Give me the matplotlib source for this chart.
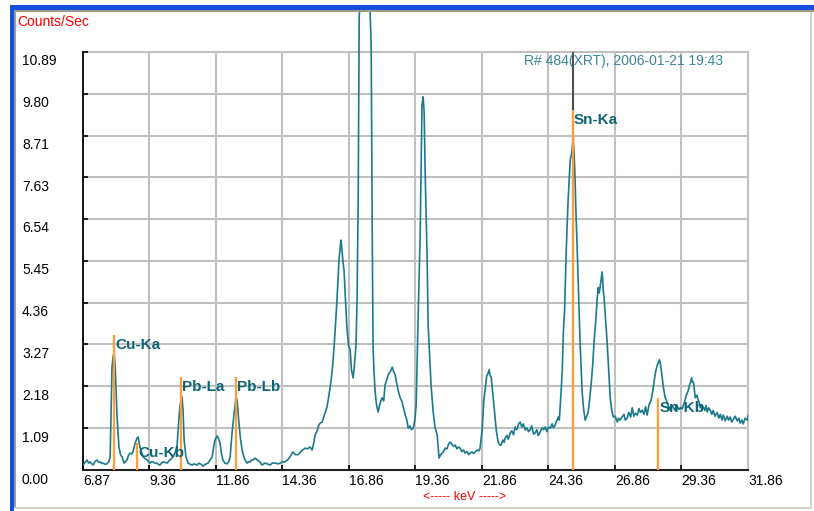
import matplotlib
matplotlib.use("Agg")
import matplotlib.pyplot as plt
from matplotlib.patches import Rectangle
from matplotlib.transforms import offset_copy

plt.rcParams['font.family'] = ['Liberation Sans', 'DejaVu Sans']

# spectrum (keV, counts/sec)
kev = [6.87, 6.95, 7.02, 7.08, 7.13, 7.20, 7.25, 7.32, 7.40, 7.46,
       7.51, 7.57, 7.62, 7.70, 7.77, 7.84, 7.89, 7.92, 7.96, 8.00,
       8.04, 8.08, 8.11, 8.15, 8.22, 8.28, 8.34, 8.41, 8.47, 8.52,
       8.58, 8.64, 8.70, 8.75, 8.83, 8.90, 8.94, 9.01, 9.07, 9.13,
       9.20, 9.28, 9.35, 9.39, 9.45, 9.50, 9.57, 9.65, 9.72, 9.76,
       9.82, 9.88, 9.95, 10.03, 10.10, 10.14, 10.20, 10.25, 10.33, 10.40,
       10.48, 10.52, 10.59, 10.63, 10.67, 10.74, 10.82, 10.90, 10.97, 11.05,
       11.16, 11.22, 11.27, 11.33, 11.38, 11.45, 11.57, 11.65, 11.72, 11.78,
       11.83, 11.91, 11.97, 12.02, 12.08, 12.13, 12.20, 12.28, 12.35, 12.40,
       12.47, 12.55, 12.62, 12.66, 12.73, 12.79, 12.85, 12.90, 12.96, 13.04,
       13.10, 13.15, 13.20, 13.26, 13.34, 13.42, 13.52, 13.60, 13.71, 13.80,
       13.90, 13.98, 14.09, 14.20, 14.28, 14.35, 14.46, 14.55, 14.65, 14.73,
       14.76, 14.85, 14.95, 15.05, 15.12, 15.22, 15.30, 15.40, 15.48, 15.54,
       15.59, 15.66, 15.72, 15.78, 15.86, 15.95, 16.04, 16.10, 16.16, 16.22,
       16.27, 16.34, 16.42, 16.49, 16.55, 16.57, 16.60, 16.64, 16.68, 16.72,
       16.79, 16.85, 16.91, 16.96, 17.02, 17.06, 17.10, 17.13, 17.17, 17.21,
       17.25, 17.43, 17.66, 17.70, 17.74, 17.77, 17.81, 17.85, 17.90, 17.96,
       18.02, 18.05, 18.11, 18.17, 18.22, 18.28, 18.34, 18.42, 18.49, 18.55,
       18.60, 18.66, 18.71, 18.78, 18.86, 18.92, 18.98, 19.04, 19.09, 19.15,
       19.22, 19.28, 19.34, 19.39, 19.46, 19.54, 19.58, 19.61, 19.65, 19.69,
       19.73, 19.80, 19.84, 19.90, 19.95, 20.03, 20.10, 20.18, 20.25, 20.31,
       20.37, 20.42, 20.48, 20.55, 20.61, 20.67, 20.75, 20.80, 20.86, 20.92,
       20.98, 21.04, 21.10, 21.17, 21.23, 21.30, 21.36, 21.42, 21.50, 21.55,
       21.61, 21.68, 21.75, 21.79, 21.87, 21.93, 21.98, 22.04, 22.10, 22.13,
       22.17, 22.21, 22.28, 22.35, 22.40, 22.47, 22.53, 22.58, 22.65, 22.70,
       22.73, 22.80, 22.85, 22.92, 22.98, 23.05, 23.11, 23.17, 23.24, 23.30,
       23.36, 23.42, 23.49, 23.55, 23.61, 23.67, 23.73, 23.80, 23.86, 23.92,
       23.98, 24.05, 24.12, 24.18, 24.24, 24.30, 24.36, 24.43, 24.50, 24.55,
       24.61, 24.67, 24.73, 24.77, 24.84, 24.88, 24.92, 24.97, 25.03, 25.10,
       25.18, 25.22, 25.25, 25.29, 25.33, 25.36, 25.40, 25.44, 25.48, 25.55,
       25.63, 25.68, 25.74, 25.80, 25.85, 25.91, 25.97, 26.03, 26.08, 26.14,
       26.19, 26.23, 26.27, 26.33, 26.38, 26.42, 26.45, 26.49, 26.55, 26.61,
       26.68, 26.74, 26.80, 26.87, 26.95, 27.00, 27.05, 27.13, 27.20, 27.25,
       27.32, 27.38, 27.45, 27.51, 27.57, 27.63, 27.70, 27.76, 27.82, 27.89,
       27.95, 28.01, 28.07, 28.14, 28.22, 28.28, 28.34, 28.40, 28.45, 28.53,
       28.56, 28.60, 28.68, 28.74, 28.79, 28.85, 28.90, 28.94, 29.00, 29.05,
       29.12, 29.18, 29.25, 29.32, 29.40, 29.48, 29.54, 29.58, 29.62, 29.66,
       29.70, 29.74, 29.77, 29.81, 29.85, 29.88, 29.94, 29.99, 30.04, 30.07,
       30.12, 30.18, 30.24, 30.28, 30.33, 30.38, 30.44, 30.50, 30.55, 30.62,
       30.70, 30.76, 30.82, 30.88, 30.93, 31.00, 31.08, 31.13, 31.19, 31.25,
       31.31, 31.38, 31.45, 31.52, 31.57, 31.63, 31.68, 31.75, 31.83, 31.87]

cps = [0.13, 0.20, 0.26, 0.18, 0.21, 0.16, 0.13, 0.22, 0.26, 0.20,
       0.21, 0.17, 0.18, 0.15, 0.16, 0.22, 0.34, 1.38, 2.68, 2.95,
       3.05, 2.70, 2.16, 1.38, 0.60, 0.40, 0.34, 0.18, 0.22, 0.26,
       0.38, 0.44, 0.42, 0.47, 0.70, 0.83, 0.86, 0.60, 0.45, 0.34,
       0.30, 0.26, 0.20, 0.18, 0.22, 0.21, 0.18, 0.18, 0.14, 0.13,
       0.18, 0.21, 0.20, 0.18, 0.24, 0.26, 0.30, 0.34, 0.45, 0.60,
       1.38, 1.69, 1.90, 1.56, 0.78, 0.34, 0.18, 0.15, 0.13, 0.16,
       0.13, 0.18, 0.16, 0.14, 0.10, 0.14, 0.18, 0.26, 0.34, 0.60,
       0.78, 0.89, 0.80, 0.70, 0.40, 0.26, 0.18, 0.16, 0.22, 0.34,
       0.96, 1.49, 1.90, 1.82, 1.22, 0.80, 0.52, 0.38, 0.26, 0.18,
       0.22, 0.21, 0.26, 0.26, 0.31, 0.26, 0.21, 0.13, 0.18, 0.16,
       0.13, 0.18, 0.18, 0.16, 0.18, 0.21, 0.21, 0.26, 0.34, 0.44,
       0.47, 0.40, 0.40, 0.48, 0.52, 0.57, 0.55, 0.60, 0.52, 0.70,
       0.91, 1.00, 1.15, 1.22, 1.25, 1.45, 1.64, 1.90, 2.16, 2.50,
       2.87, 3.57, 4.51, 5.47, 5.90, 5.99, 5.75, 5.42, 5.20, 4.61,
       3.70, 3.25, 3.13, 2.60, 2.40, 2.65, 3.00, 3.26, 4.48, 6.90,
       11.85, 13.00, 11.93, 11.02, 6.10, 3.20, 2.50, 2.03, 1.70, 1.51,
       1.70, 1.77, 1.88, 1.80, 2.21, 2.35, 2.48, 2.56, 2.68, 2.55,
       2.48, 2.25, 2.08, 1.90, 1.77, 1.60, 1.43, 1.30, 1.09, 1.15,
       1.05, 1.09, 1.30, 1.69, 3.86, 6.12, 8.00, 9.51, 9.72, 9.33,
       7.69, 5.60, 3.78, 2.90, 2.21, 1.51, 1.10, 0.91, 0.31, 0.40,
       0.44, 0.48, 0.57, 0.55, 0.68, 0.73, 0.65, 0.62, 0.65, 0.55,
       0.60, 0.57, 0.48, 0.52, 0.44, 0.48, 0.40, 0.44, 0.47, 0.43,
       0.47, 0.52, 0.50, 0.57, 1.04, 1.80, 2.08, 2.45, 2.53, 2.61,
       2.45, 2.42, 1.90, 1.40, 1.04, 0.73, 0.65, 0.65, 0.78, 0.72,
       0.83, 0.90, 0.80, 0.96, 1.02, 0.92, 1.12, 1.05, 1.20, 1.25,
       1.12, 1.20, 1.04, 1.10, 1.00, 1.04, 1.15, 0.94, 0.96, 1.05,
       0.90, 0.99, 1.10, 1.05, 1.12, 1.00, 1.12, 1.09, 1.20, 1.10,
       1.17, 1.28, 1.38, 1.30, 2.08, 2.60, 3.57, 4.20, 5.73, 7.03,
       8.08, 8.20, 8.34, 8.68, 8.16, 7.60, 6.59, 5.80, 4.87, 3.31,
       2.01, 1.60, 1.30, 1.40, 1.49, 1.85, 2.27, 2.80, 3.39, 3.90,
       4.43, 4.75, 4.61, 4.90, 5.16, 4.69, 4.50, 4.09, 3.50, 2.79,
       1.90, 1.55, 1.38, 1.40, 1.25, 1.35, 1.30, 1.38, 1.45, 1.30,
       1.35, 1.50, 1.38, 1.62, 1.40, 1.48, 1.43, 1.60, 1.50, 1.56,
       1.45, 1.65, 1.43, 1.70, 1.82, 2.05, 2.35, 2.60, 2.72, 2.87,
       2.80, 2.61, 2.16, 1.90, 1.82, 1.70, 1.62, 1.56, 1.68, 1.64,
       1.55, 1.70, 1.58, 1.62, 1.62, 1.78, 1.95, 2.01, 2.08, 2.20,
       2.29, 2.40, 2.29, 2.29, 2.05, 1.88, 1.95, 1.82, 1.72, 1.62,
       1.70, 1.64, 1.55, 1.68, 1.51, 1.62, 1.56, 1.45, 1.55, 1.40,
       1.50, 1.35, 1.45, 1.30, 1.43, 1.28, 1.40, 1.30, 1.38, 1.25,
       1.32, 1.40, 1.28, 1.35, 1.22, 1.30, 1.20, 1.35, 1.30, 1.43]

# element markers
elements = ['Cu-Ka', 'Cu-Kb', 'Pb-La', 'Pb-Lb', 'Sn-Ka', 'Sn-Kb']
element_kev = [8.04, 8.90, 10.55, 12.61, 25.27, 28.49]
element_height = [3.52, 0.70, 2.42, 2.42, 9.38, 1.88]

xticks = [6.87, 9.36, 11.86, 14.36, 16.86, 19.36, 21.86, 24.36, 26.86, 29.36, 31.86]
yticks = [0.00, 1.09, 2.18, 3.27, 4.36, 5.45, 6.54, 7.63, 8.71, 9.80, 10.89]

W, H = 814, 511
fig = plt.figure(figsize=(W / 100, H / 100), dpi=100)
fig.patch.set_facecolor('white')


def fx(px):
    return px / W


def fy(py):
    return 1 - py / H


# window frame
blue = '#1450d8'
fig.add_artist(Rectangle((fx(10), fy(10)), fx(814) - fx(10), 5 / H, transform=fig.transFigure,
                         color=blue, lw=0))
fig.add_artist(Rectangle((fx(14), fy(12)), fx(814) - fx(14), 2 / H, transform=fig.transFigure,
                         color='#9a9a9a', lw=0))
fig.add_artist(Rectangle((fx(10), fy(511)), 4 / W, (511 - 10) / H, transform=fig.transFigure,
                         color=blue, lw=0))
fig.add_artist(Rectangle((fx(14), fy(508)), 2 / W, (508 - 12) / H, transform=fig.transFigure,
                         color='#9a9a9a', lw=0))
fig.add_artist(Rectangle((fx(14), fy(509)), fx(812) - fx(14), 2 / H, transform=fig.transFigure,
                         color='#d8d4cc', lw=0))
fig.add_artist(Rectangle((fx(810), fy(509)), 2 / W, (509 - 12) / H, transform=fig.transFigure,
                         color='#d8d4cc', lw=0))

ytop = 10.89
ymax = 11.93
ax = fig.add_axes([fx(83), fy(470), fx(748) - fx(83), (470 - 12) / H])
ax.set_xlim(6.87, 31.86)
ax.set_ylim(0, ymax)
ax.patch.set_alpha(0)

grid_col = '#c0c0c0'
ax.hlines(yticks[1:], 6.87, 31.86, color=grid_col, lw=1.5, zorder=0)
ax.vlines(xticks[1:-1], 0, ytop, color=grid_col, lw=1.5, zorder=0)

ax.spines['top'].set_visible(False)
ax.spines['left'].set_bounds(0, ytop)
ax.spines['right'].set_bounds(0, ytop)
ax.spines['right'].set_color(grid_col)
ax.spines['right'].set_linewidth(1.5)
ax.spines['left'].set_linewidth(1.3)
ax.spines['bottom'].set_linewidth(1.5)
ax.spines['bottom'].set_color('#202020')

ax.set_xticks(xticks)
ax.set_yticks(yticks)
ax.tick_params(direction='in', length=3.5, width=1.2, color='black',
               labelleft=False, labelbottom=False)

# tick labels, left aligned like the original
ytr = offset_copy(ax.get_yaxis_transform(), fig=fig, x=0, y=-13.5, units='dots')
for v in yticks:
    ax.text((22 - 83) / 665, v, f'{v:.2f}', transform=ytr, ha='left', va='baseline',
            fontsize=10, color='black', clip_on=False)
xtr = offset_copy(ax.get_xaxis_transform(), fig=fig, x=0, y=-15, units='dots')
for v in xticks:
    ax.text(v, 0, f'{v:.2f}', transform=xtr, ha='left', va='baseline',
            fontsize=10, color='black', clip_on=False)

# spectrum
ax.plot(kev, cps, color='#1b7a8b', lw=1.2, zorder=3)

# cursor line at Sn-Ka
ax.vlines(element_kev[4], 0, ytop, color='#505050', lw=1.5, zorder=2)

label_col = '#0d6477'
orange = '#ff9d3a'
for name, e, h in zip(elements, element_kev, element_height):
    ax.vlines(e, 0, h, color=orange, lw=1.6, zorder=4)
    ax.annotate(name, (e, h), xytext=(1, -3), textcoords='offset pixels',
                ha='left', va='top', fontsize=11, fontweight='bold',
                color=label_col, zorder=5)

fig.text(fx(623), fy(61), 'R# 484(XRT), 2006-01-21 19:43', ha='center', va='center',
         fontsize=10, color='#3a8797')
fig.text(fx(17), fy(22), 'Counts/Sec', ha='left', va='center', fontsize=10, color='#ff0000')
fig.text(fx(465), fy(497), '<----- keV ----->', ha='center', va='center', fontsize=9,
         color='#ff0000')

fig.savefig('out.png', dpi=100)
